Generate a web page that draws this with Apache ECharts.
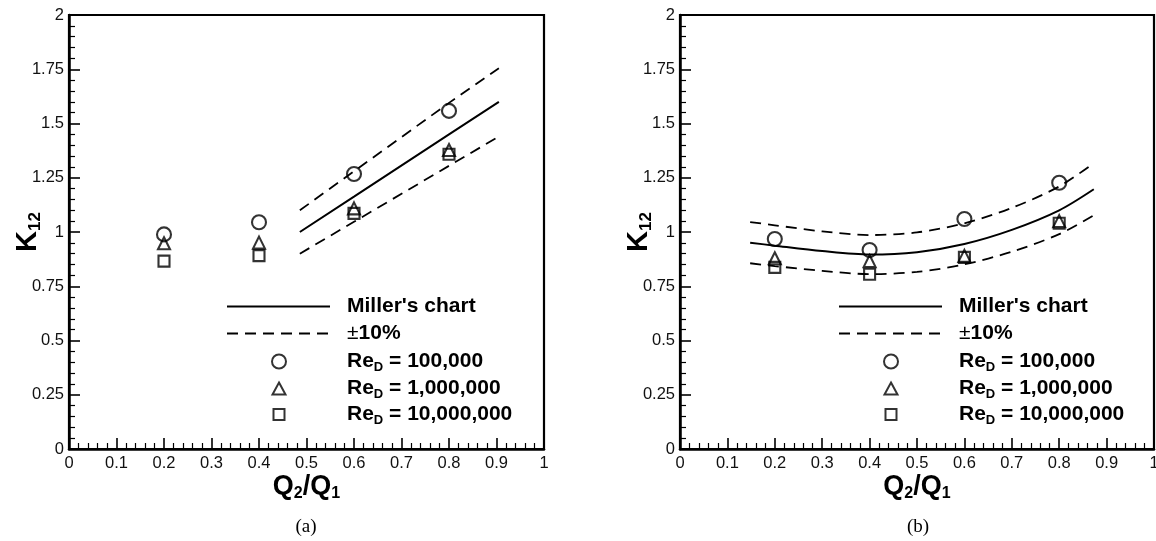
<!DOCTYPE html>
<html>
<head>
<meta charset="utf-8">
<script src="https://cdn.jsdelivr.net/npm/echarts@6/dist/echarts.min.js"></script>
<style>
html,body{margin:0;padding:0;background:#fff;}
#chart{width:1156px;height:541px;}
</style>
</head>
<body>
<div id="chart"></div>
<script>
// ---------- data ----------
// Panel (a)
const millerA = [[0.486, 1.0], [0.6, 1.163], [0.8, 1.45], [0.905, 1.6]];
const upperA  = [[0.486, 1.1], [0.6, 1.28], [0.8, 1.595], [0.905, 1.755]];
const lowerA  = [[0.486, 0.9], [0.6, 1.047], [0.8, 1.305], [0.905, 1.44]];
const re1e5A  = [[0.2, 0.989], [0.4, 1.045], [0.6, 1.267], [0.8, 1.558]];
const re1e6A  = [[0.2, 0.948], [0.4, 0.951], [0.6, 1.109], [0.8, 1.378]];
const re1e7A  = [[0.2, 0.866], [0.4, 0.891], [0.6, 1.086], [0.8, 1.358]];
// Panel (b)
const millerB = [[0.148, 0.951], [0.2, 0.937], [0.3, 0.912], [0.4, 0.896], [0.5, 0.907], [0.6, 0.945], [0.7, 1.01], [0.8, 1.1], [0.873, 1.197]];
const upperB  = [[0.148, 1.046], [0.2, 1.031], [0.3, 1.003], [0.4, 0.986], [0.5, 0.998], [0.6, 1.04], [0.7, 1.111], [0.8, 1.21], [0.873, 1.317]];
const lowerB  = [[0.148, 0.856], [0.2, 0.843], [0.3, 0.821], [0.4, 0.806], [0.5, 0.816], [0.6, 0.851], [0.7, 0.909], [0.8, 0.99], [0.873, 1.077]];
const re1e5B  = [[0.2, 0.968], [0.4, 0.917], [0.6, 1.06], [0.8, 1.227]];
const re1e6B  = [[0.2, 0.879], [0.4, 0.866], [0.6, 0.89], [0.8, 1.05]];
const re1e7B  = [[0.2, 0.837], [0.4, 0.805], [0.6, 0.883], [0.8, 1.04]];

// legend entries and rich labels
const seriesNames = ["Miller's chart", "±10%", "Re_D = 100,000", "Re_D = 1,000,000", "Re_D = 10,000,000"];
const legendLabels = {
  "Miller's chart": "{b|Miller's chart}",
  "±10%": "{pm|±}{b|10%}",
  "Re_D = 100,000": "{b|Re}{s|D}{b| = 100,000}",
  "Re_D = 1,000,000": "{b|Re}{s|D}{b| = 1,000,000}",
  "Re_D = 10,000,000": "{b|Re}{s|D}{b| = 10,000,000}"
};
const panelLabels = ['(a)', '(b)'];

const FONT = '"Liberation Sans", Arial, Helvetica, sans-serif';
const grids = [
  {left: 69, top: 15, width: 475, height: 434},
  {left: 680, top: 15, width: 474, height: 434}
];

function xAxisFor(i) {
  return {
    type: 'value', gridIndex: i, min: 0, max: 1, interval: 0.1,
    name: '{b|Q}{s|2}{b|/Q}{s|1}', nameLocation: 'middle', nameGap: 23, nameMoveOverlap: false,
    nameTextStyle: {
      fontFamily: FONT, color: '#000',
      rich: {
        b: {fontFamily: FONT, fontSize: 27, fontWeight: 'bold', color: '#000', lineHeight: 30},
        s: {fontFamily: FONT, fontSize: 16, fontWeight: 'bold', color: '#000', lineHeight: 6, verticalAlign: 'bottom'}
      }
    },
    axisLine: {show: true, onZero: false, lineStyle: {color: '#000', width: 2.5}},
    axisTick: {show: true, inside: true, length: 11, lineStyle: {color: '#000', width: 1.6}},
    minorTick: {show: true, splitNumber: 5, length: 6, lineStyle: {color: '#000', width: 1.2}},
    axisLabel: {show: true, margin: 6, fontFamily: FONT, fontSize: 16.5, color: '#111'},
    splitLine: {show: false}, minorSplitLine: {show: false}
  };
}
function yAxisFor(i) {
  return {
    type: 'value', gridIndex: i, min: 0, max: 2, interval: 0.25,
    name: '{b|K}{s|12}', nameLocation: 'middle', nameGap: 25, nameMoveOverlap: false,
    nameTextStyle: {
      fontFamily: FONT, color: '#000',
      rich: {
        b: {fontFamily: FONT, fontSize: 29, fontWeight: 'bold', color: '#000', lineHeight: 32},
        s: {fontFamily: FONT, fontSize: 17, fontWeight: 'bold', color: '#000', lineHeight: 6, verticalAlign: 'bottom'}
      }
    },
    axisLine: {show: true, onZero: false, lineStyle: {color: '#000', width: 2.5}},
    axisTick: {show: true, inside: true, length: 11, lineStyle: {color: '#000', width: 1.6}},
    minorTick: {show: true, splitNumber: 5, length: 6, lineStyle: {color: '#000', width: 1.2}},
    axisLabel: {show: true, margin: 5, fontFamily: FONT, fontSize: 16.5, color: '#111'},
    splitLine: {show: false}, minorSplitLine: {show: false}
  };
}

function lineSeries(i, name, data, dashed, smooth) {
  return {
    type: 'line', name: name, xAxisIndex: i, yAxisIndex: i, data: data,
    symbol: 'none', smooth: smooth ? 0.3 : false,
    lineStyle: {color: '#000', width: dashed ? 1.8 : 2, type: dashed ? [11, 7] : 'solid'},
    itemStyle: {color: '#000'}, z: 2, silent: true
  };
}
function scatterSeries(i, name, data, symbol, size) {
  return {
    type: 'scatter', name: name, xAxisIndex: i, yAxisIndex: i, data: data,
    symbol: symbol, symbolSize: size,
    itemStyle: {color: 'rgba(255,255,255,0)', borderColor: '#000', borderWidth: 2.1},
    z: 3, silent: true
  };
}

const series = [
  lineSeries(0, seriesNames[0], millerA, false, false),
  lineSeries(0, seriesNames[1], upperA, true, false),
  lineSeries(0, seriesNames[1], lowerA, true, false),
  scatterSeries(0, seriesNames[2], re1e5A, 'circle', 14),
  scatterSeries(0, seriesNames[3], re1e6A, 'triangle', 12),
  scatterSeries(0, seriesNames[4], re1e7A, 'rect', 11),
  lineSeries(1, seriesNames[0], millerB, false, true),
  lineSeries(1, seriesNames[1], upperB, true, true),
  lineSeries(1, seriesNames[1], lowerB, true, true),
  scatterSeries(1, seriesNames[2], re1e5B, 'circle', 14),
  scatterSeries(1, seriesNames[3], re1e6B, 'triangle', 12),
  scatterSeries(1, seriesNames[4], re1e7B, 'rect', 11)
];

// legend layout: one legend row per entry so icons can have their own size
const legendRich = {
  b: {fontFamily: FONT, fontSize: 21, fontWeight: 'bold', color: '#000', lineHeight: 24},
  pm: {fontFamily: FONT, fontSize: 21, fontWeight: 'normal', color: '#000', lineHeight: 24},
  s: {fontFamily: FONT, fontSize: 13, fontWeight: 'bold', color: '#000', lineHeight: 6, verticalAlign: 'bottom'}
};
const rowCenters = [305, 332, 360, 387, 413];
const iconSizes = [[103, 14], [103, 14], [14, 14], [13, 12], [11, 11]];
function legendsFor(lineLeft, textLeft) {
  const markCenter = lineLeft + 52;
  return seriesNames.map(function (n, k) {
    const w = iconSizes[k][0], h = iconSizes[k][1];
    const isLine = k < 2;
    const left = isLine ? lineLeft : markCenter - w / 2;
    return {
      orient: 'vertical', left: left, top: rowCenters[k] - 9, padding: 0,
      itemWidth: w, itemHeight: h, itemGap: 0,
      selectedMode: false,
      data: [isLine ? {name: n, itemStyle: {color: 'rgba(0,0,0,0)', borderWidth: 0, opacity: 0}} : {name: n}],
      formatter: function (nm) { return legendLabels[nm]; },
      textStyle: {color: '#000', padding: [0, 0, 0, textLeft - (left + w) - 5], rich: legendRich}
    };
  });
}

const option = {
  backgroundColor: '#fff',
  animation: false,
  grid: grids.map(g => Object.assign({show: true, borderColor: '#000', borderWidth: 2.2, backgroundColor: 'transparent', outerBoundsMode: 'none', containLabel: false}, g)),
  xAxis: [xAxisFor(0), xAxisFor(1)],
  yAxis: [yAxisFor(0), yAxisFor(1)],
  legend: legendsFor(226, 346).concat(legendsFor(838, 958)),
  series: series,
  graphic: [
    {type: 'text', x: 306, y: 527, style: {text: panelLabels[0], align: 'center', verticalAlign: 'middle', font: '19px "Liberation Serif", "Times New Roman", serif', fill: '#000'}},
    {type: 'text', x: 918, y: 527, style: {text: panelLabels[1], align: 'center', verticalAlign: 'middle', font: '19px "Liberation Serif", "Times New Roman", serif', fill: '#000'}}
  ]
};

const chart = echarts.init(document.getElementById('chart'), null, {renderer: 'canvas'});
chart.setOption(option);
</script>
</body>
</html>
